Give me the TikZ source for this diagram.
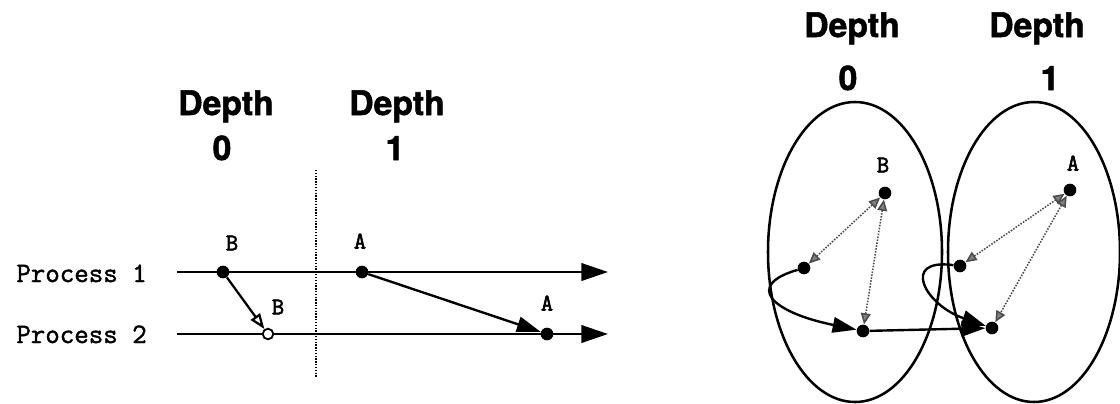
\documentclass[tikz,border=0pt]{standalone}
\usepackage{fontspec}
\setmainfont{TeX Gyre Heros}
\setmonofont{Latin Modern Mono}
\usetikzlibrary{arrows.meta}

\begin{document}
\begin{tikzpicture}[x=0.025cm,y=-0.025cm,>=Latex,
  dot/.style={circle,fill,inner sep=0pt,minimum size=9pt},
  hollowdot/.style={circle,draw,line width=1.3pt,fill=white,inner sep=0pt,minimum size=7.5pt},
  depthlbl/.style={font=\fontsize{24}{26}\selectfont\bfseries\addfontfeature{FakeBold=1.5},anchor=base,inner sep=0pt},
  proclbl/.style={font=\fontsize{20}{22}\selectfont\ttfamily\addfontfeature{FakeBold=1.5},anchor=base east,inner sep=0pt},
  evlbl/.style={font=\fontsize{17}{19}\selectfont\ttfamily\addfontfeature{FakeBold=2.5},inner sep=0pt},
  timeline/.style={line width=1.6pt,-{Triangle[length=19pt,width=12.5pt]}},
  msg/.style={line width=1.7pt,-{Triangle[length=17pt,width=11pt]}},
  openmsg/.style={line width=1.6pt,-{Triangle[open,length=11pt,width=8pt]}},
  reply/.style={densely dotted,line width=1.1pt,gray!60!black,
    {Triangle[length=8pt,width=7pt,fill=gray]}-{Triangle[length=8pt,width=7pt,fill=gray]}},
  ring/.style={line width=1.8pt}]
  \useasboundingbox (0,0) rectangle (1120,403);

  \node[depthlbl] (dl0) at (226,115) {Depth};
  \node[depthlbl] (dl0n) at (222,160) {0};
  \node[depthlbl] (dl1) at (397,115) {Depth};
  \node[depthlbl] (dl1n) at (395,160) {1};
  \node[proclbl] (p1) at (147,282) {Process 1};
  \node[proclbl] (p2) at (147,343) {Process 2};
  \coordinate (p1s) at (177,272);
  \coordinate (p1e) at (608,272);
  \coordinate (p2s) at (177,334);
  \coordinate (p2e) at (608,334);
  \coordinate (cutTop) at (316,170);
  \coordinate (cutBot) at (316,377);
  \draw[timeline] (p1s) -- (p1e);
  \draw[timeline] (p2s) -- (p2e);
  \draw[densely dotted,line width=1pt] (cutTop) -- (cutBot);
  \node[dot] (b1) at (223,272) {};
  \node[hollowdot] (b2) at (268,334) {};
  \node[dot] (a1) at (362,272) {};
  \node[dot] (a2) at (547,334) {};
  \node[evlbl] (lb1) at (232,243) {B};
  \node[evlbl] (lb2) at (278,307) {B};
  \node[evlbl] (la1) at (360,241) {A};
  \node[evlbl] (la2) at (547,303) {A};
  \draw[openmsg] (b1) -- (b2);
  \draw[msg] (a1) -- (a2);

  \node[depthlbl] (dr0) at (852,37) {Depth};
  \node[depthlbl] (dr0n) at (848,90) {0};
  \node[depthlbl] (dr1) at (1037,37) {Depth};
  \node[depthlbl] (dr1n) at (1050,90) {1};
  \draw[ring] (855,252) ellipse [x radius=87,y radius=150];
  \draw[ring] (1034,252) ellipse [x radius=86,y radius=150];
  \node[dot] (rb) at (885,193) {};
  \node[dot] (rl) at (804,268) {};
  \node[dot] (rm) at (863,331) {};
  \node[dot] (ra) at (1070,190) {};
  \node[dot] (rl2) at (960,266) {};
  \node[dot] (rm2) at (992,328) {};
  \node[evlbl] (rlb) at (883,165) {B};
  \node[evlbl] (rla) at (1073,163) {A};
  \draw[reply] (rl) -- (rb);
  \draw[reply] (rb) -- (rm);
  \draw[reply] (rl2) -- (ra);
  \draw[reply] (ra) -- (rm2);
  \draw[msg] (rl) .. controls (745,285) and (770,312) .. (rm);
  \draw[msg] (rm) -- (rm2);
  \draw[msg] (rl2) .. controls (900,258) and (925,305) .. (rm2);
\end{tikzpicture}
\end{document}
